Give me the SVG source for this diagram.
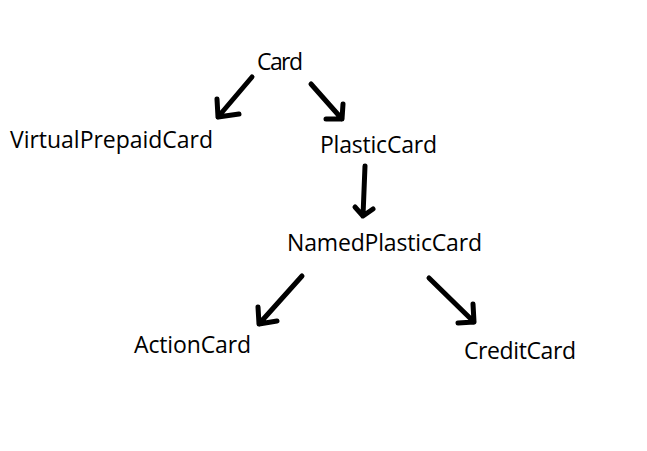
<svg xmlns="http://www.w3.org/2000/svg" width="647" height="451" viewBox="0 0 647 451">
<style>
text{font-family:"Open Sans","Noto Sans","DejaVu Sans",sans-serif;font-size:23px;fill:#000}
.a{fill:none;stroke:#000;stroke-width:5;stroke-linecap:round;stroke-linejoin:round}
</style>
<rect width="647" height="451" fill="#fff"/>
<g id="card"><text x="257" y="70" textLength="46">Card</text></g>
<g id="virtual"><text x="10" y="148" textLength="203">VirtualPrepaidCard</text></g>
<g id="plastic"><text x="320" y="153" textLength="117">PlasticCard</text></g>
<g id="named"><text x="287" y="251" textLength="195">NamedPlasticCard</text></g>
<g id="action"><text x="134" y="353" textLength="117">ActionCard</text></g>
<g id="credit"><text x="464" y="359" textLength="112">CreditCard</text></g>
<g id="connectors">
<path class="a" d="M252 77 L218 117 M217 99 L218 117 L239 114"/>
<path class="a" d="M311 84 L342 119 M343 104 L342 119 L326 119"/>
<path class="a" d="M365 166 L363 216 M355 207 L363 216 L373 209"/>
<path class="a" d="M302 276 L259 324 M258 307 L259 324 L277 321"/>
<path class="a" d="M429 278 L474 322 M473 304 L474 322 L458 323"/>
</g>
</svg>
